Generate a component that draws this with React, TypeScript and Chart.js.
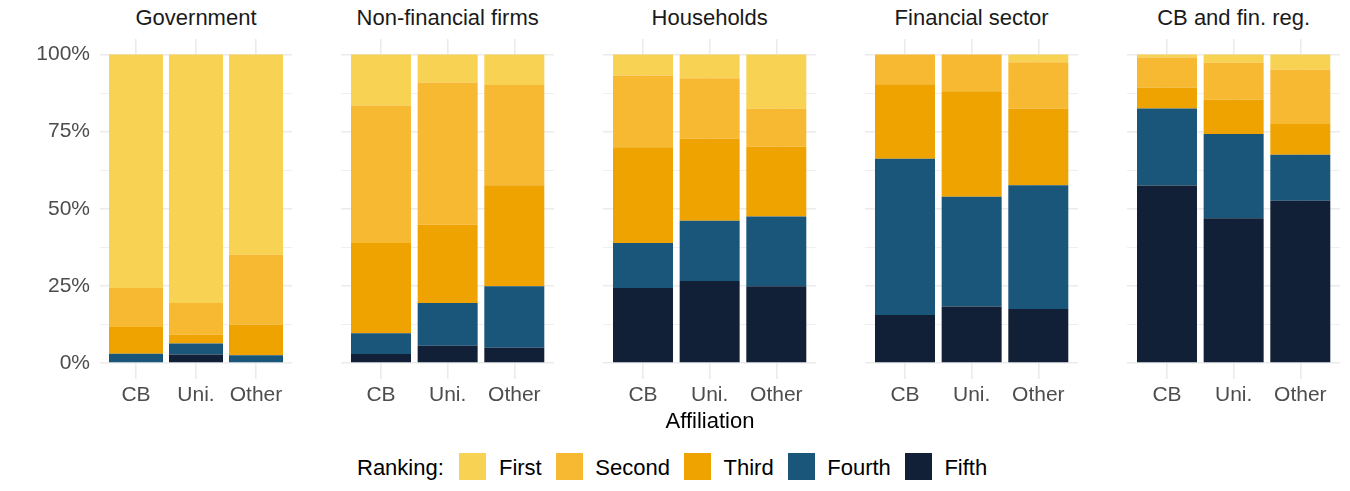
import { useEffect, useRef } from 'react';
import Chart from 'chart.js/auto';

const panelTitles = ['Government', 'Non-financial firms', 'Households', 'Financial sector', 'CB and fin. reg.'];
const affiliations = ['CB', 'Uni.', 'Other'];
const rankings = ['First', 'Second', 'Third', 'Fourth', 'Fifth'];
const yTicks = [0, 12.5, 25, 37.5, 50, 62.5, 75, 87.5, 100];

// share (%) per panel, each row ordered CB / Uni. / Other
const first = [[75.7, 80.5, 64.9], [16.6, 9.1, 9.9], [6.8, 7.7, 17.5], [0, 0, 2.5], [1.0, 2.7, 5.0]];
const second = [[12.6, 10.3, 22.7], [44.5, 46.1, 32.5], [23.3, 19.6, 12.4], [9.7, 11.9, 15.0], [9.7, 12.0, 17.5]];
const third = [[8.7, 2.9, 9.9], [29.2, 25.3, 32.7], [31.0, 26.6, 22.6], [24.1, 34.2, 24.9], [6.8, 11.1, 10.0]];
const fourth = [[3.0, 3.5, 2.5], [6.8, 13.9, 19.9], [14.6, 19.5, 22.6], [50.6, 35.6, 40.1], [25.0, 27.3, 14.9]];
const fifth = [[0, 2.8, 0], [2.9, 5.6, 5.0], [24.3, 26.6, 24.9], [15.6, 18.3, 17.5], [57.5, 46.9, 52.6]];

const seriesByRanking = [first, second, third, fourth, fifth];
const colors = ['#F8D253', '#F8B932', '#EEA301', '#1A557A', '#111F37'];

// layout
const plotLeft = [100, 341, 603, 865, 1127];
const plotWidth = [192, 213.3, 213.3, 213.3, 213.3];
const plotTop = 39;
const plotHeight = 339.5;
const xAxisHeight = 40.5;
const yAxisWidth = 100;
const fontFamily = '"Liberation Sans", Arial, Helvetica, sans-serif';
const gridColor = '#EBEBEB';

function Panel({ index }: { index: number }) {
  const canvasRef = useRef<HTMLCanvasElement>(null);
  const showY = index === 0;

  useEffect(() => {
    const ctx = canvasRef.current?.getContext('2d');
    if (!ctx) return;

    // stack from the bottom: Fifth first, First last
    const datasets = rankings
      .map((name, r) => ({
        label: name,
        data: seriesByRanking[r][index].map((v, k) => ({ x: k + 1, y: v })),
        backgroundColor: colors[r],
        borderWidth: 0,
        categoryPercentage: 1,
        barPercentage: 0.9,
      }))
      .reverse();

    const chart = new Chart(ctx, {
      type: 'bar',
      data: { datasets },
      options: {
        animation: false,
        responsive: true,
        maintainAspectRatio: false,
        layout: { padding: 0 },
        plugins: {
          legend: { display: false },
          tooltip: { enabled: false },
        },
        scales: {
          x: {
            type: 'linear',
            stacked: true,
            offset: false,
            min: 0.4,
            max: 3.6,
            border: { display: false },
            grid: { color: gridColor, lineWidth: 1.6, drawTicks: false, offset: false },
            afterBuildTicks: (s: any) => {
              s.ticks = affiliations.map((_, k) => ({ value: k + 1 }));
            },
            afterFit: (s: any) => {
              s.height = xAxisHeight;
              s.paddingLeft = 0;
              s.paddingRight = 0;
            },
            ticks: {
              autoSkip: false,
              maxRotation: 0,
              padding: 4.4,
              color: '#4D4D4D',
              font: { family: fontFamily, size: 21 },
              callback: (_v: any, i: number) => affiliations[i],
            },
          },
          y: {
            stacked: true,
            min: -5,
            max: 105,
            border: { display: false },
            grid: {
              color: gridColor,
              drawTicks: false,
              lineWidth: (c: any) => (c.tick && c.tick.value % 25 === 0 ? 1.6 : 0.8),
            },
            afterBuildTicks: (s: any) => {
              s.ticks = yTicks.map((v) => ({ value: v }));
            },
            afterFit: (s: any) => {
              s.width = showY ? yAxisWidth : 0;
              s.paddingTop = 0;
              s.paddingBottom = 0;
            },
            ticks: {
              display: showY,
              autoSkip: false,
              padding: 10,
              color: '#4D4D4D',
              font: { family: fontFamily, size: 21 },
              callback: (v: any) => (Number(v) % 25 === 0 ? `${v}%` : ''),
            },
          },
        },
      },
    });

    return () => chart.destroy();
  }, [index, showY]);

  const left = showY ? plotLeft[index] - yAxisWidth : plotLeft[index];
  const width = showY ? plotWidth[index] + yAxisWidth : plotWidth[index];

  return (
    <>
      <div
        style={{
          position: 'absolute',
          left: plotLeft[index],
          width: plotWidth[index],
          top: 7.4,
          textAlign: 'center',
          fontSize: 22,
          lineHeight: '22px',
          color: '#1A1A1A',
          whiteSpace: 'nowrap',
        }}
      >
        {panelTitles[index]}
      </div>
      <div
        style={{
          position: 'absolute',
          left,
          top: plotTop,
          width,
          height: plotHeight + xAxisHeight,
        }}
      >
        <canvas ref={canvasRef} />
      </div>
    </>
  );
}

export default function App() {
  return (
    <div
      style={{
        position: 'absolute',
        left: 0,
        top: 0,
        width: 1350,
        height: 491,
        background: '#FFFFFF',
        overflow: 'hidden',
        fontFamily,
      }}
    >
      {panelTitles.map((_, i) => (
        <Panel key={i} index={i} />
      ))}

      <div
        style={{
          position: 'absolute',
          left: 610,
          width: 200,
          top: 410.1,
          textAlign: 'center',
          fontSize: 22,
          lineHeight: '22px',
          color: '#000000',
        }}
      >
        Affiliation
      </div>

      <div
        style={{
          position: 'absolute',
          left: 357,
          top: 453,
          height: 27,
          display: 'flex',
          alignItems: 'center',
          fontSize: 22,
          lineHeight: '27px',
          color: '#000000',
          whiteSpace: 'nowrap',
        }}
      >
        <span style={{ position: 'relative', top: 1 }}>Ranking:</span>
        {rankings.map((name, r) => (
          <div key={name} style={{ display: 'flex', alignItems: 'center', marginLeft: r === 0 ? 15.5 : 14 }}>
            <span style={{ width: 27, height: 27, background: colors[r], display: 'inline-block' }} />
            <span style={{ marginLeft: 12.6, position: 'relative', top: 1 }}>{name}</span>
          </div>
        ))}
      </div>
    </div>
  );
}
